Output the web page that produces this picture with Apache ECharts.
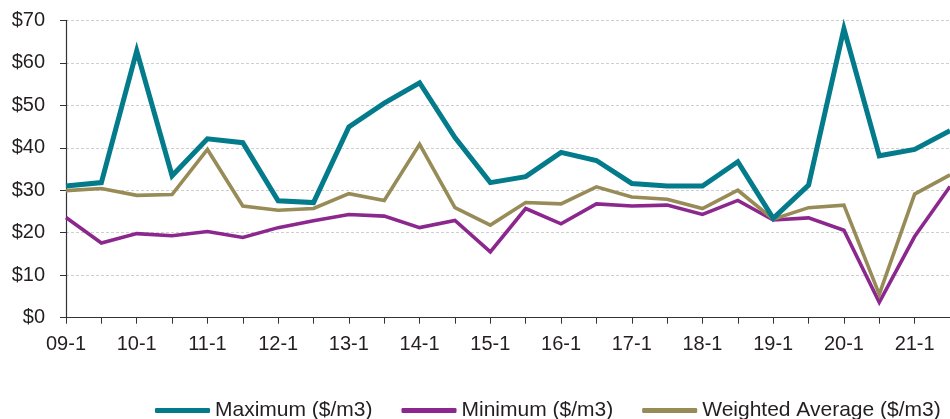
<!DOCTYPE html>
<html>
<head>
<meta charset="utf-8">
<script src="https://cdn.jsdelivr.net/npm/echarts@6/dist/echarts.min.js"></script>
<style>
  html, body { margin: 0; padding: 0; background: #fff; }
  #chart { width: 950px; height: 419px; }
</style>
</head>
<body>
<div id="chart"></div>
<script>
// Half-year periods, 2009 H1 through 2021 H2
const categories = [
  '09-1','09-2','10-1','10-2','11-1','11-2','12-1','12-2','13-1','13-2',
  '14-1','14-2','15-1','15-2','16-1','16-2','17-1','17-2','18-1','18-2',
  '19-1','19-2','20-1','20-2','21-1','21-2'
];

// Prices in $/m3
const maximumPrice = [
  31.0, 31.8, 62.8, 33.4, 42.1, 41.2, 27.5, 27.1, 44.9, 50.5,
  55.3, 42.4, 31.8, 33.2, 38.9, 37.0, 31.6, 31.0, 31.0, 36.7,
  23.4, 31.2, 68.0, 38.1, 39.6, 44.0
];
const minimumPrice = [
  23.6, 17.6, 19.8, 19.3, 20.3, 18.9, 21.2, 22.8, 24.3, 23.9,
  21.2, 22.9, 15.5, 25.7, 22.1, 26.8, 26.3, 26.5, 24.3, 27.6,
  23.0, 23.5, 20.6, 3.6, 19.1, 30.9
];
const weightedAverage = [
  29.9, 30.4, 28.8, 29.0, 39.6, 26.3, 25.3, 25.7, 29.2, 27.6,
  40.8, 25.9, 21.8, 27.1, 26.8, 30.8, 28.4, 27.9, 25.7, 30.0,
  23.2, 25.9, 26.5, 5.5, 29.1, 33.6
];

const yTicks = { min: 0, max: 70, step: 10 };

const FONT = '"Liberation Sans", Arial, sans-serif';
const TEXT = '#231f20';
const C_MAX = '#037b8b';
const C_MIN = '#8c278e';
const C_AVG = '#978b57';

const chart = echarts.init(document.getElementById('chart'), null, { renderer: 'canvas' });

function lineSeries(name, data, color, width) {
  return {
    name: name,
    type: 'line',
    data: data,
    showSymbol: false,
    symbol: 'none',
    smooth: false,
    animation: false,
    lineStyle: { color: color, width: width, join: 'miter', cap: 'butt' },
    itemStyle: { color: color }
  };
}

chart.setOption({
  animation: false,
  backgroundColor: '#ffffff',
  textStyle: { fontFamily: FONT, color: TEXT },
  grid: { left: 66, right: -5.5, top: 20.3, bottom: 101.3, containLabel: false },
  legend: {
    data: ['Maximum ($/m3)', 'Minimum ($/m3)', 'Weighted Average ($/m3)'],
    left: 150,
    top: 395,
    icon: 'roundRect',
    itemWidth: 55,
    itemHeight: 5,
    itemGap: 29,
    textStyle: { fontFamily: FONT, fontSize: 21, color: TEXT }
  },
  xAxis: {
    type: 'category',
    data: categories,
    boundaryGap: false,
    axisLine: { show: true, lineStyle: { color: '#333', width: 1.2 } },
    axisTick: { show: true, interval: 0, length: 6, lineStyle: { color: '#333' } },
    axisLabel: {
      interval: 1,
      margin: 17,
      fontFamily: FONT,
      fontSize: 20,
      color: TEXT
    },
    splitLine: { show: false }
  },
  yAxis: {
    type: 'value',
    min: yTicks.min,
    max: yTicks.max,
    interval: yTicks.step,
    axisLine: { show: true, lineStyle: { color: '#333', width: 1.2 } },
    axisTick: { show: true, length: 6, lineStyle: { color: '#333' } },
    axisLabel: {
      margin: 21,
      fontFamily: FONT,
      fontSize: 20,
      color: TEXT,
      formatter: v => '$' + v
    },
    splitLine: { show: true, lineStyle: { color: '#cfcfcf', type: [3, 2], width: 1 } }
  },
  series: [
    lineSeries('Minimum ($/m3)', minimumPrice, C_MIN, 3.6),
    lineSeries('Weighted Average ($/m3)', weightedAverage, C_AVG, 3.6),
    lineSeries('Maximum ($/m3)', maximumPrice, C_MAX, 5)
  ]
});
</script>
</body>
</html>
